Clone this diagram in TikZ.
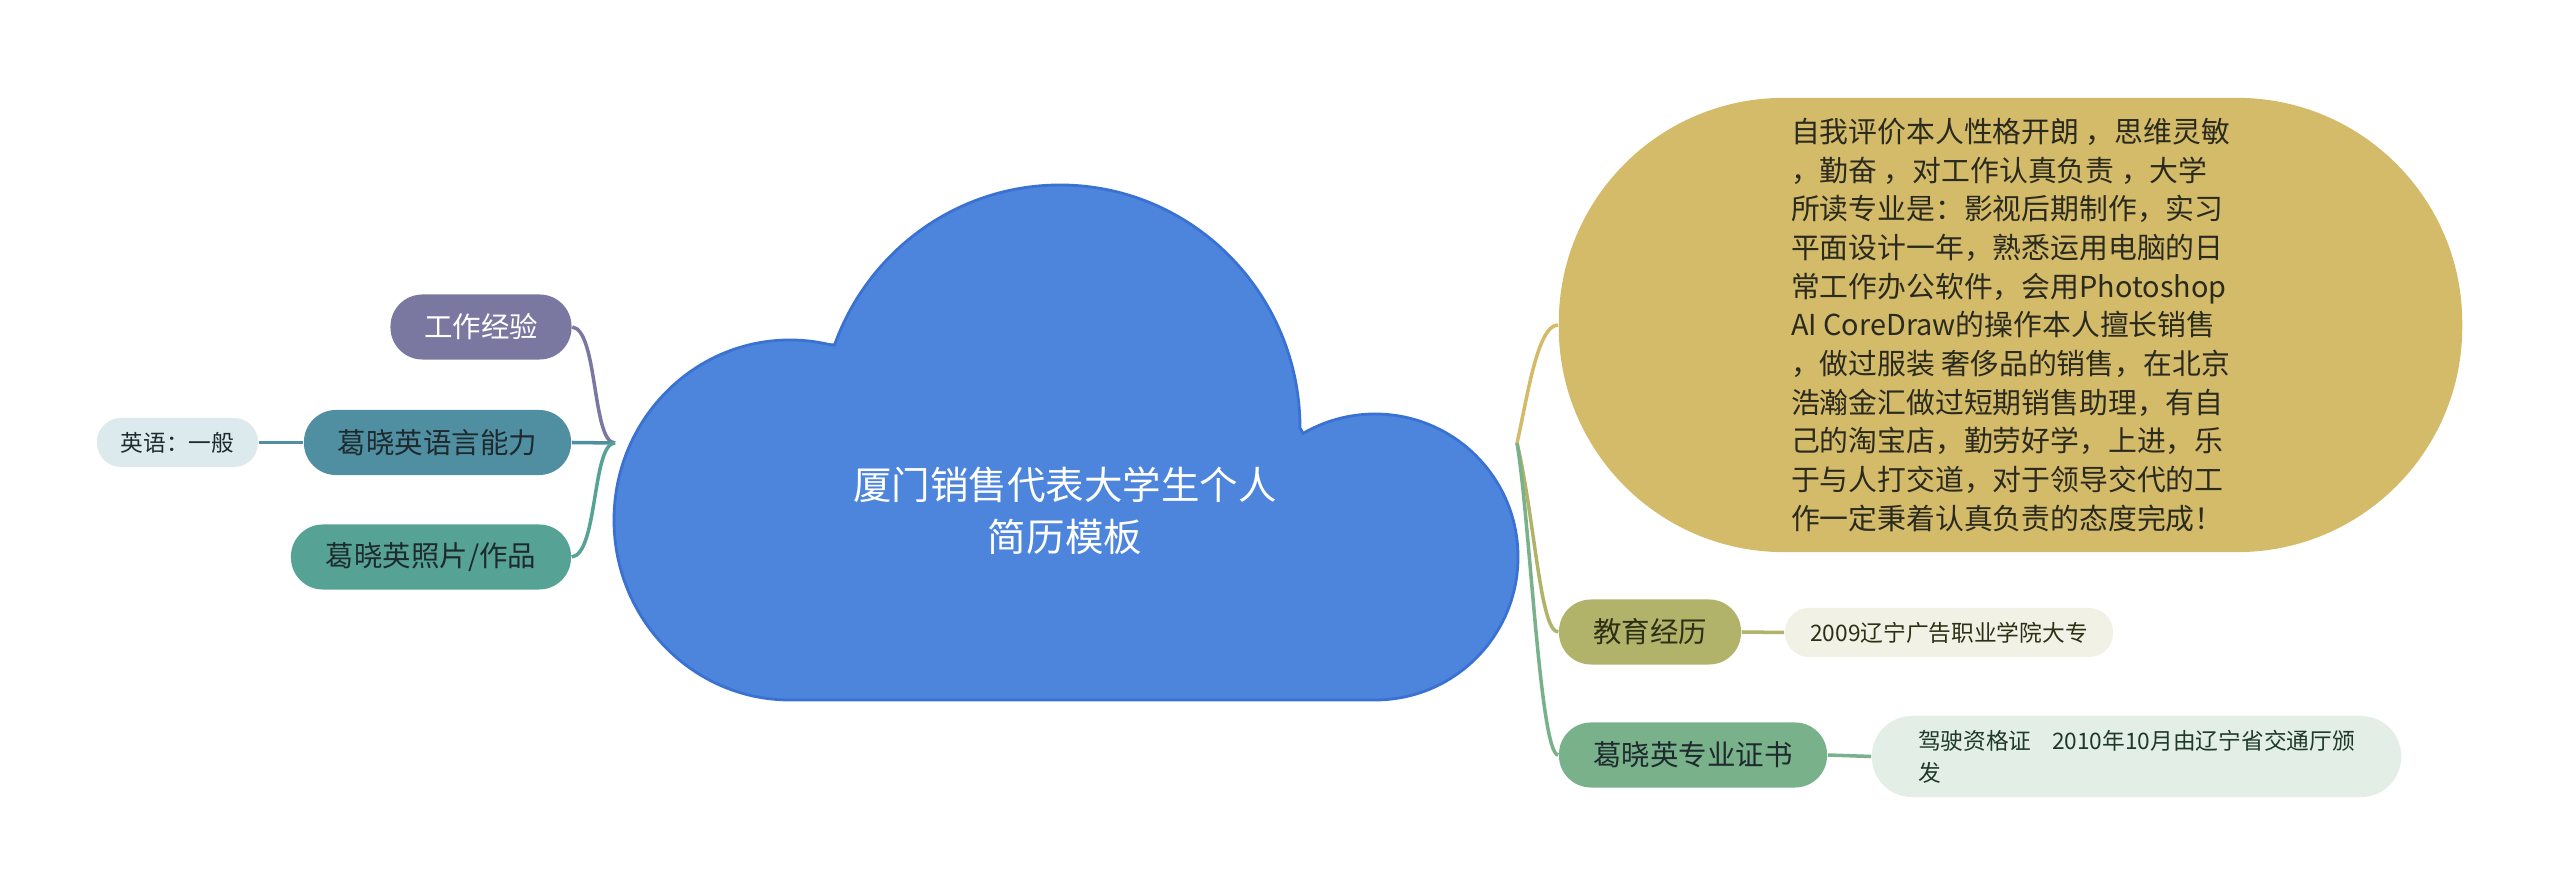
\documentclass[tikz,border=0pt]{standalone}
\usepackage{fontspec}
\setmainfont{Noto Sans CJK SC}
\definecolor{cloudfill}{HTML}{4C85DB}
\definecolor{cloudline}{HTML}{3A72D4}
\definecolor{cwork}{HTML}{7A77A0}
\definecolor{clang}{HTML}{508FA1}
\definecolor{cphoto}{HTML}{56A396}
\definecolor{ceng}{HTML}{DCEAEE}
\definecolor{cyel}{HTML}{D3BB6A}
\definecolor{cedu}{HTML}{B1B36B}
\definecolor{cedul}{HTML}{F1F1E5}
\definecolor{ccert}{HTML}{79B18B}
\definecolor{ccertl}{HTML}{E3EEE7}
\definecolor{tdark}{HTML}{1E2A2E}
\definecolor{ytext}{HTML}{2B2A1E}
\definecolor{otext}{HTML}{2D3014}
\definecolor{gtext}{HTML}{1F3A28}
\begin{document}
\begin{tikzpicture}[x=0.01cm,y=-0.01cm,
  pill/.style={rounded corners=3.2mm, minimum height=6.5mm, inner sep=0pt,
    font=\fontsize{8.1pt}{9.7pt}\selectfont, text=tdark},
  leaf/.style={rounded corners=2.4mm, minimum height=4.9mm, inner sep=0pt,
    font=\fontsize{6.46pt}{9.1pt}\selectfont, text=tdark},
  link/.style={line width=1pt}]
\useasboundingbox (0,0) rectangle (2560,892);

% cloud
\path[fill=cloudfill, draw=cloudline, line width=0.8pt]
  (790,700) .. controls (692.8,700) and (614,619.4) .. (614,520)
  .. controls (614,420.6) and (692.8,340) .. (790,340)
  .. controls (803.1,340) and (816.2,341.5) .. (829,344.5) -- (834.5,345)
  .. controls (869,249) and (959,185) .. (1060,185)
  .. controls (1192.5,185) and (1300,294) .. (1300,428) -- (1303.1,433.4)
  .. controls (1324.9,420.7) and (1349.7,414) .. (1375,414)
  .. controls (1454,414) and (1518,478) .. (1518,557)
  .. controls (1518,636) and (1454,700) .. (1375,700) -- cycle;
\node[text=white, align=center, font=\fontsize{10.95pt}{14.8pt}\selectfont] (root) at (1065,511) {厦门销售代表大学生个人\\简历模板};
\coordinate (jl) at (615,443);
\coordinate (jr) at (1517,443);

% left
\node[pill, fill=cwork, text=white, minimum width=1.81cm] (work) at (481,327) {工作经验};
\node[pill, fill=clang, minimum width=2.67cm] (lang) at (437.5,442.5) {葛晓英语言能力};
\node[leaf, fill=ceng, minimum width=1.61cm] (eng) at (177.5,442.5) {英语：一般};
\node[pill, fill=cphoto, minimum width=2.80cm] (photo) at (431,557) {葛晓英照片/作品};

% right
\node[fill=cyel, rounded corners=2.25cm, minimum width=9.03cm, minimum height=4.54cm, inner sep=0pt,
  align=left, text=ytext, font=\fontsize{8.2pt}{11pt}\selectfont] (self) at (2010.5,325)
  {自我评价本人性格开朗 ，思维灵敏\\
   ，勤奋 ，对工作认真负责 ，大学\\
   所读专业是：影视后期制作，实习\\
   平面设计一年，熟悉运用电脑的日\\
   常工作办公软件，会用Photoshop\\
   AI CoreDraw的操作本人擅长销售\\
   ，做过服装 奢侈品的销售，在北京\\
   浩瀚金汇做过短期销售助理，有自\\
   己的淘宝店，勤劳好学，上进，乐\\
   于与人打交道，对于领导交代的工\\
   作一定秉着认真负责的态度完成！};
\node[pill, fill=cedu, text=otext, minimum width=1.82cm] (edu) at (1650,632) {教育经历};
\node[leaf, fill=cedul, text=otext, minimum width=3.28cm] (eduL) at (1949,632.5) {2009辽宁广告职业学院大专};
\node[pill, fill=ccert, minimum width=2.68cm] (cert) at (1693,755) {葛晓英专业证书};
\node[leaf, fill=ccertl, text=gtext, minimum width=5.29cm, minimum height=8.1mm, rounded corners=4mm, align=left] (certL) at (2136.5,756.5)
  {驾驶资格证\hspace{0.9em}2010年10月由辽宁省交通厅颁\\发};

% connectors
\draw[link, cwork] (work.east) .. controls (598,330) and (592,443) .. (jl);
\draw[link, clang] (lang.east) -- (jl);
\draw[link, cphoto] (photo.east) .. controls (598,554) and (592,443) .. (jl);
\draw[link, clang] (eng.east) -- (lang.west);
\draw[link, cyel] (jr) .. controls (1527,400) and (1537,325) .. (self.west);
\draw[link, cedu] (jr) .. controls (1535,520) and (1540,632) .. (edu.west);
\draw[link, ccert] (jr) .. controls (1530,520) and (1540,755) .. (cert.west);
\draw[link, cedu] (edu.east) -- (eduL.west);
\draw[link, ccert] (cert.east) -- (certL.west);
\end{tikzpicture}
\end{document}
